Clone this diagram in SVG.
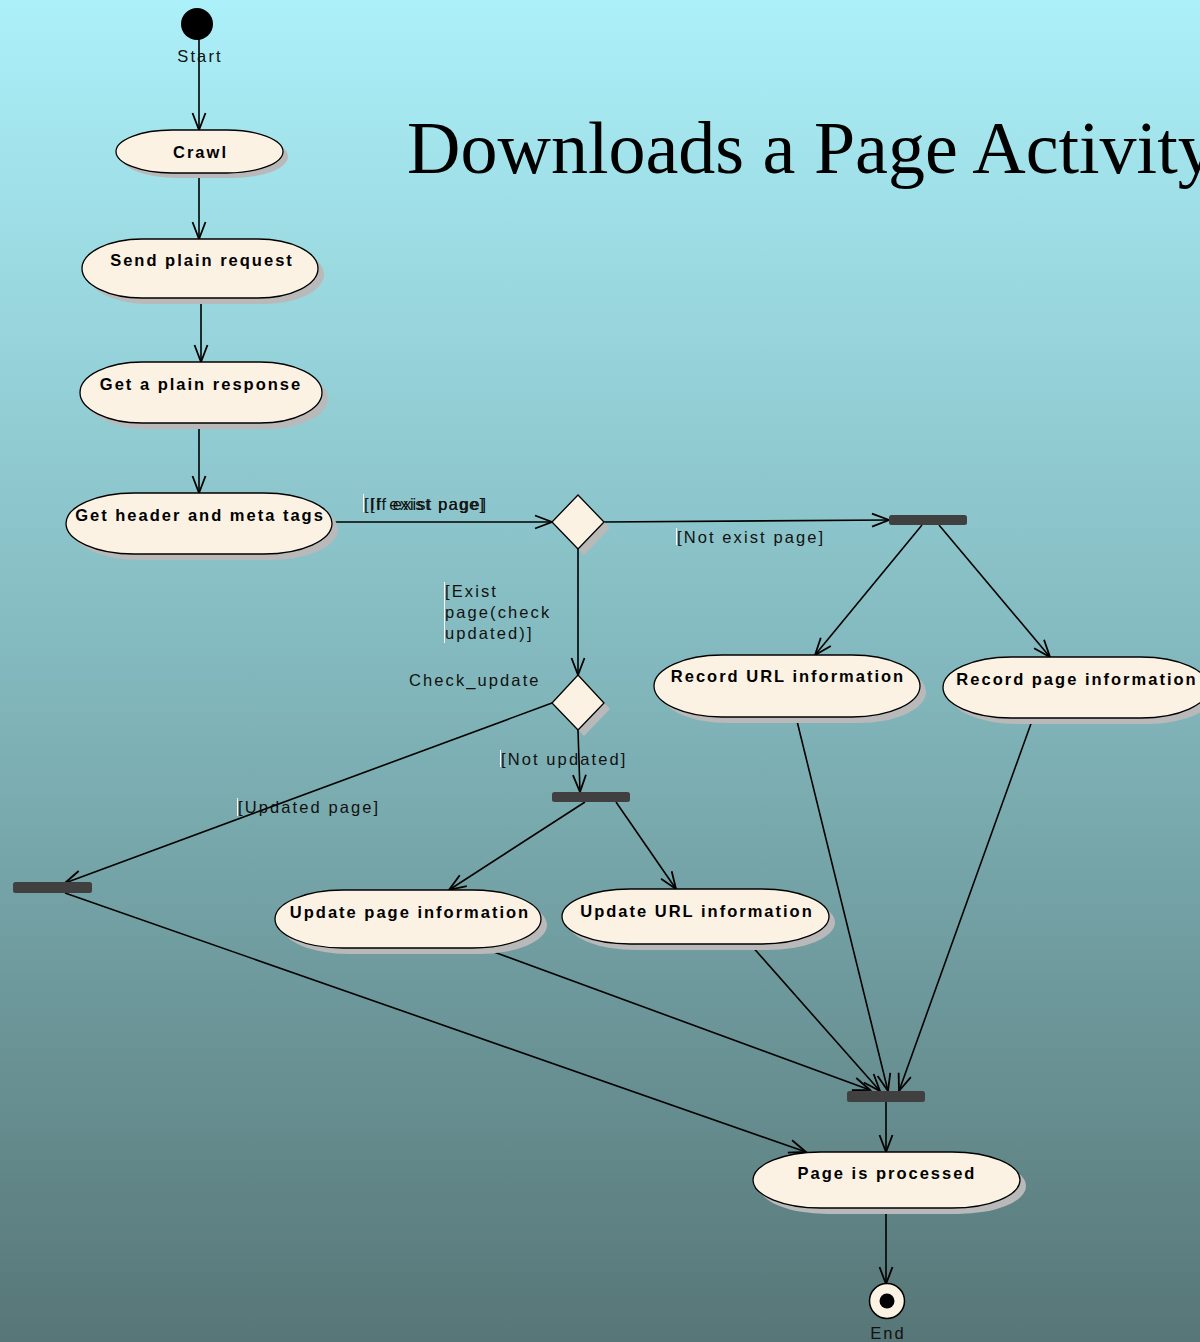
<svg xmlns="http://www.w3.org/2000/svg" width="1200" height="1342" viewBox="0 0 1200 1342">
  <defs>
    <linearGradient id="bg" x1="0" y1="0" x2="0" y2="1">
      <stop offset="0" stop-color="#acf0f9"/>
      <stop offset="0.5" stop-color="#82b8bd"/>
      <stop offset="1" stop-color="#577677"/>
    </linearGradient>
    <marker id="arrow" markerUnits="userSpaceOnUse" viewBox="-18 -9 20 18" refX="0" refY="0" markerWidth="20" markerHeight="18" orient="auto" overflow="visible">
      <path d="M-17,-6.5 L0,0 L-17,6.5" fill="none" stroke="#000" stroke-width="1.8"/>
    </marker>
    <style>
      .node { fill: #fcf2e4; stroke: #000; stroke-width: 1.3; }
      .shadow { fill: #b9b9b9; }
      .bar { fill: #404040; }
      .nlabel { font-family: "Liberation Sans", Arial, sans-serif; font-size: 16.5px; font-weight: bold; fill: #000; text-anchor: middle; letter-spacing: 2px; }
      .elabel { font-family: "Liberation Sans", Arial, sans-serif; font-size: 16.5px; fill: #111; letter-spacing: 2.1px; }
      .tight { letter-spacing: 0; }
      .caret { stroke: #ffffff; stroke-width: 1; }
      .edge { fill: none; stroke: #000; stroke-width: 1.6; marker-end: url(#arrow); }
      .title { font-family: "Liberation Serif", "Times New Roman", serif; font-size: 74px; fill: #000; }
    </style>
  </defs>

  <rect x="0" y="0" width="1200" height="1342" fill="url(#bg)"/>

  <text class="title" x="407" y="173">Downloads a Page Activity</text>

  <!-- connectors -->
  <g id="connectors">
    <line class="edge" x1="199" y1="36" x2="199" y2="130"/>
    <line class="edge" x1="199" y1="173" x2="199" y2="239"/>
    <line class="edge" x1="201" y1="298" x2="201" y2="362"/>
    <line class="edge" x1="199" y1="423" x2="199" y2="493"/>
    <line class="edge" x1="332" y1="522" x2="552" y2="522"/>
    <line class="edge" x1="604" y1="522" x2="889" y2="520"/>
    <line class="edge" x1="578" y1="549" x2="578" y2="675"/>
    <line class="edge" x1="552" y1="703" x2="65" y2="883"/>
    <line class="edge" x1="578" y1="730" x2="580" y2="792"/>
    <line class="edge" x1="585" y1="802" x2="449" y2="890"/>
    <line class="edge" x1="616" y1="802" x2="676" y2="889"/>
    <line class="edge" x1="922" y1="525" x2="815" y2="655"/>
    <line class="edge" x1="939" y1="525" x2="1050" y2="657"/>
    <line class="edge" x1="796" y1="717" x2="888" y2="1091"/>
    <line class="edge" x1="1033" y1="718" x2="899" y2="1091"/>
    <line class="edge" x1="750" y1="944" x2="880" y2="1091"/>
    <line class="edge" x1="483" y1="948" x2="870" y2="1090"/>
    <line class="edge" x1="65" y1="893" x2="806" y2="1152"/>
    <line class="edge" x1="886" y1="1102" x2="886" y2="1152"/>
    <line class="edge" x1="886" y1="1208" x2="886" y2="1284"/>

    <!-- guard labels (the first one is printed twice, slightly offset) -->
    <line class="caret" x1="363.5" y1="494" x2="363.5" y2="512"/>
    <text class="elabel tight" x="364" y="510" textLength="122" lengthAdjust="spacing">[If exist page]</text>
    <text class="elabel tight" x="370" y="510" textLength="114" lengthAdjust="spacing">[If exist page]</text>
    <line class="caret" x1="676.5" y1="528" x2="676.5" y2="545"/>
    <text class="elabel" x="677" y="543">[Not exist page]</text>
    <line class="caret" x1="444.5" y1="582" x2="444.5" y2="643"/>
    <text class="elabel" x="445" y="597">[Exist</text>
    <text class="elabel" x="445" y="618">page(check</text>
    <text class="elabel" x="445" y="639">updated)]</text>
    <line class="caret" x1="500.5" y1="750" x2="500.5" y2="767"/>
    <text class="elabel" x="501" y="765">[Not updated]</text>
    <line class="caret" x1="237.5" y1="798" x2="237.5" y2="816"/>
    <text class="elabel" x="238" y="813">[Updated page]</text>
  </g>

  <!-- initial node -->
  <g id="start">
    <circle cx="197" cy="24" r="16" fill="#000"/>
    <text class="elabel" x="200" y="62" text-anchor="middle">Start</text>
  </g>

  <g id="crawl">
    <rect class="shadow" x="121" y="135" width="167" height="43" rx="56" ry="21.5"/>
    <rect class="node" x="116" y="130" width="167" height="43" rx="56" ry="21.5"/>
    <text class="nlabel" x="200.5" y="158">Crawl</text>
  </g>

  <g id="send-plain-request">
    <rect class="shadow" x="88" y="245" width="236" height="59" rx="60" ry="29.5"/>
    <rect class="node" x="82" y="239" width="236" height="59" rx="60" ry="29.5"/>
    <text class="nlabel" x="202" y="266">Send plain request</text>
  </g>

  <g id="get-plain-response">
    <rect class="shadow" x="86" y="368" width="242" height="61" rx="62" ry="30.5"/>
    <rect class="node" x="80" y="362" width="242" height="61" rx="62" ry="30.5"/>
    <text class="nlabel" x="201" y="390">Get a plain response</text>
  </g>

  <g id="get-header-meta">
    <rect class="shadow" x="72" y="499" width="266" height="61" rx="68" ry="30.5"/>
    <rect class="node" x="66" y="493" width="266" height="61" rx="68" ry="30.5"/>
    <text class="nlabel" x="200" y="521">Get header and meta tags</text>
  </g>

  <g id="decision-exist">
    <polygon class="shadow" points="584,501 610,528 584,555 558,528"/>
    <polygon class="node" points="578,495 604,522 578,549 552,522"/>
  </g>

  <g id="decision-check-update">
    <polygon class="shadow" points="584,681 610,709 584,736 558,709"/>
    <polygon class="node" points="578,675 604,703 578,730 552,703"/>
    <text class="elabel" x="409" y="686">Check_update</text>
  </g>

  <g id="fork-new-page">
    <rect class="bar" x="889" y="515" width="78" height="10" rx="2.5"/>
  </g>

  <g id="fork-not-updated">
    <rect class="bar" x="552" y="792" width="78" height="10" rx="2.5"/>
  </g>

  <g id="merge-updated">
    <rect class="bar" x="13" y="882" width="79" height="11" rx="2.5"/>
  </g>

  <g id="record-url-info">
    <rect class="shadow" x="660" y="661" width="266" height="62" rx="68" ry="31"/>
    <rect class="node" x="654" y="655" width="266" height="62" rx="68" ry="31"/>
    <text class="nlabel" x="788" y="682">Record URL information</text>
  </g>

  <g id="record-page-info">
    <rect class="shadow" x="949" y="663" width="266" height="61" rx="68" ry="30.5"/>
    <rect class="node" x="943" y="657" width="266" height="61" rx="68" ry="30.5"/>
    <text class="nlabel" x="1077" y="685">Record page information</text>
  </g>

  <g id="update-page-info">
    <rect class="shadow" x="281" y="896" width="266" height="58" rx="68" ry="29"/>
    <rect class="node" x="275" y="890" width="266" height="58" rx="68" ry="29"/>
    <text class="nlabel" x="410" y="918">Update page information</text>
  </g>

  <g id="update-url-info">
    <rect class="shadow" x="568" y="895" width="267" height="55" rx="68" ry="27.5"/>
    <rect class="node" x="562" y="889" width="267" height="55" rx="68" ry="27.5"/>
    <text class="nlabel" x="697" y="917">Update URL information</text>
  </g>

  <g id="join-processed">
    <rect class="bar" x="847" y="1091" width="78" height="11" rx="2.5"/>
  </g>

  <g id="page-processed">
    <rect class="shadow" x="759" y="1158" width="267" height="56" rx="68" ry="28"/>
    <rect class="node" x="753" y="1152" width="267" height="56" rx="68" ry="28"/>
    <text class="nlabel" x="887" y="1179">Page is processed</text>
  </g>

  <!-- final node -->
  <g id="end">
    <circle cx="887" cy="1301" r="17.5" fill="#fcf2e4" stroke="#000" stroke-width="1.5"/>
    <circle cx="887" cy="1301" r="7.5" fill="#000"/>
    <text class="elabel" x="888" y="1339" text-anchor="middle">End</text>
  </g>
</svg>
